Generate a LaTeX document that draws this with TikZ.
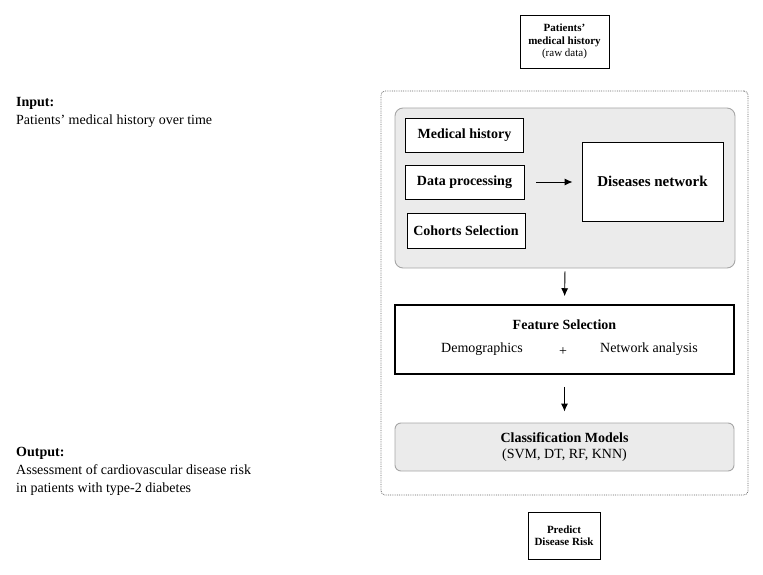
\documentclass[tikz,border=0pt]{standalone}
\usepackage{fontspec}
\setmainfont{Liberation Serif}
\usetikzlibrary{arrows.meta}

\begin{document}
\begin{tikzpicture}[x=1pt, y=-1pt,
  plainbox/.style={draw, fill=white, line width=0.9pt, align=center, inner sep=2pt},
  greybox/.style={draw=black!35, fill=black!8, rounded corners=8pt, line width=0.9pt},
  flow/.style={-{Latex[length=8pt,width=7pt]}, line width=0.9pt},
  boxtext/.style={font=\fontsize{14}{16}\selectfont\bfseries},
  sidetext/.style={anchor=north west, align=left, inner sep=0pt, font=\fontsize{14}{18}\selectfont}]
  \useasboundingbox (0,0) rectangle (763,575);

  % Side notes
  \node[sidetext] (input) at (16,97) {\textbf{Input:}\\Patients' medical history over time};
  \node[sidetext] (output) at (16,447) {\textbf{Output:}\\Assessment of cardiovascular disease risk\\in patients with type-2 diabetes};

  % Raw data
  \node[plainbox, minimum width=89, minimum height=53, font=\fontsize{11}{12.5}\selectfont]
    (raw) at (564.5,41.5) {\textbf{Patients'}\\\textbf{medical history}\\(raw data)};

  % Pipeline frame
  \node[draw=black!60, densely dotted, rounded corners=4pt, minimum width=367, minimum height=404,
    line width=0.8pt] (pipeline) at (564.5,293) {};

  % Network construction
  \node[greybox, minimum width=340, minimum height=160] (network) at (565,188) {};
  \node[plainbox, boxtext, minimum width=118, minimum height=34] (history) at (464.5,135) {Medical history};
  \node[plainbox, boxtext, minimum width=119, minimum height=34] (process) at (464.5,182) {Data processing};
  \node[plainbox, boxtext, minimum width=118, minimum height=35] (cohort) at (466,230.5) {Cohorts Selection};
  \node[plainbox, boxtext, font=\fontsize{15}{17}\selectfont\bfseries, minimum width=141, minimum height=79]
    (disease) at (652.5,181.5) {Diseases network};
  \draw[flow, shorten <=12pt, shorten >=9pt] (process.east) -- (disease.west |- process.east);

  % Features
  \node[plainbox, line width=1.5pt, minimum width=339, minimum height=69] (feature) at (564.5,339.5) {};
  \node[boxtext] (featuretitle) at (564.5,325) {Feature Selection};
  \node[font=\fontsize{14}{16}\selectfont] (demo) at (482,349) {Demographics};
  \node[font=\fontsize{14}{16}\selectfont] (plus) at (563,352) {+};
  \node[font=\fontsize{14}{16}\selectfont] (netan) at (649,349) {Network analysis};
  \draw[flow, shorten <=3pt, shorten >=8pt] (network.south) -- (feature.north);

  % Models
  \node[greybox, rounded corners=6pt, minimum width=339, minimum height=48, align=center,
    font=\fontsize{14}{16.5}\selectfont] (models) at (564.5,447) {\textbf{Classification Models}\\(SVM, DT, RF, KNN)};
  \draw[flow, shorten <=12pt, shorten >=11pt] (feature.south) -- (models.north);

  % Prediction
  \node[plainbox, minimum width=72, minimum height=47, font=\fontsize{11}{12.5}\selectfont\bfseries]
    (predict) at (564,535.5) {Predict\\Disease Risk};
\end{tikzpicture}
\end{document}
